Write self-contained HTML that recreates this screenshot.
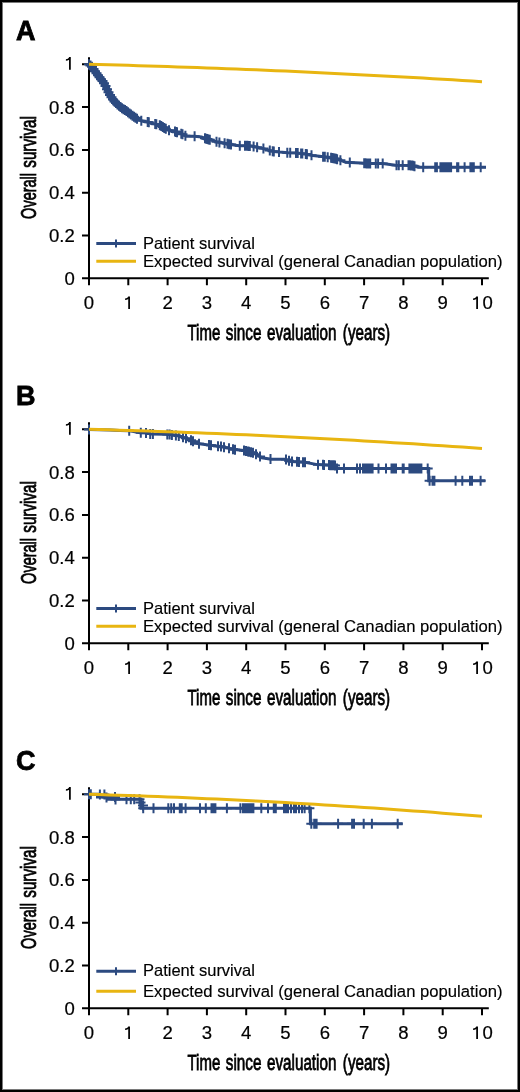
<!DOCTYPE html>
<html><head><meta charset="utf-8"><title>Survival</title><style>
html,body{margin:0;padding:0;background:#fff;}
body{width:520px;height:1092px;overflow:hidden;position:relative;}
svg{position:absolute;left:0;top:0;display:block;will-change:transform;}
text{font-family:"Liberation Sans",sans-serif;fill:#000;}
.let{font-weight:bold;font-size:27px;stroke:#000;stroke-width:0.8px;}
.g1{stroke:#000;stroke-width:1.75;fill:none;}
.g1f{stroke:#000;stroke-width:1.5;fill:none;}
.cond{font-size:22.8px;stroke:#000;stroke-width:0.8px;}
.tk{font-size:17.5px;stroke:#000;stroke-width:0.2px;}
.lg{font-size:16.5px;stroke:#000;stroke-width:0.15px;}
.ax{stroke:#000;stroke-width:2;fill:none;}
.bl{stroke:#2c4a80;stroke-width:3;fill:none;stroke-linejoin:miter;}
.mk{stroke:#2c4a80;stroke-width:2;fill:none;}
.ye{stroke:#e8b511;stroke-width:3;fill:none;}
</style></head>
<body>
<svg width="520" height="1092" viewBox="0 0 520 1092">
<rect x="0" y="0" width="520" height="1092" fill="#fff"/>
<g transform="translate(0,0)">
<text x="16" y="39.8" class="let">A</text>
<text class="cond" transform="translate(35.8,218.89) rotate(-90) scale(0.636,1)">Overall</text>
<text class="cond" transform="translate(35.8,167.72) rotate(-90) scale(0.668,1)">survival</text>
<text class="cond" transform="translate(187.46,339.5) scale(0.659,1)">Time</text>
<text class="cond" transform="translate(225.77,339.5) scale(0.671,1)">since</text>
<text class="cond" transform="translate(267.05,339.5) scale(0.667,1)">evaluation</text>
<text class="cond" transform="translate(342.86,339.5) scale(0.667,1)">(years)</text>
<path d="M89 57.3V285.3M82 278.3H488.8" class="ax"/>
<path d="M82 64.3H89M82 107.1H89M82 149.9H89M82 192.7H89M82 235.5H89" class="ax"/>
<path d="M128.3 278.3V285.3M167.6 278.3V285.3M206.9 278.3V285.3M246.2 278.3V285.3M285.5 278.3V285.3M324.8 278.3V285.3M364.1 278.3V285.3M403.4 278.3V285.3M442.7 278.3V285.3M482 278.3V285.3" class="ax"/>
<text transform="translate(74.8,284.7) scale(1.06,1)" class="tk" text-anchor="end">0</text>
<text transform="translate(74.8,241.9) scale(1.06,1)" class="tk" text-anchor="end">0.2</text>
<text transform="translate(74.8,199.1) scale(1.06,1)" class="tk" text-anchor="end">0.4</text>
<text transform="translate(74.8,156.3) scale(1.06,1)" class="tk" text-anchor="end">0.6</text>
<text transform="translate(74.8,113.5) scale(1.06,1)" class="tk" text-anchor="end">0.8</text>
<path d="M69.9 57.1V69.7" class="g1"/><path d="M69.7 57.7C69.1 59.3 67.7 60 65.9 60" class="g1f"/>
<text transform="translate(89,309) scale(1.06,1)" class="tk" text-anchor="middle">0</text>
<path d="M129.1 296.4V309" class="g1"/><path d="M128.9 297C128.3 298.6 126.9 299.3 125.1 299.3" class="g1f"/>
<text transform="translate(167.6,309) scale(1.06,1)" class="tk" text-anchor="middle">2</text>
<text transform="translate(206.9,309) scale(1.06,1)" class="tk" text-anchor="middle">3</text>
<text transform="translate(246.2,309) scale(1.06,1)" class="tk" text-anchor="middle">4</text>
<text transform="translate(285.5,309) scale(1.06,1)" class="tk" text-anchor="middle">5</text>
<text transform="translate(324.8,309) scale(1.06,1)" class="tk" text-anchor="middle">6</text>
<text transform="translate(364.1,309) scale(1.06,1)" class="tk" text-anchor="middle">7</text>
<text transform="translate(403.4,309) scale(1.06,1)" class="tk" text-anchor="middle">8</text>
<text transform="translate(442.7,309) scale(1.06,1)" class="tk" text-anchor="middle">9</text>
<path d="M477.1 296.4V309" class="g1"/><path d="M476.9 297C476.3 298.6 474.9 299.3 473.1 299.3" class="g1f"/>
<text transform="translate(487.6,309) scale(1.06,1)" class="tk" text-anchor="middle">0</text>
<path d="M89 64.3 L92 66.8 L96.5 73.3 L100 78 L102.3 80.6 L105 85 L108 91.2 L110 95 L113.8 100.8 L117 104 L121.5 108 L126.3 110.9 L131.5 115 L137.3 119 L141.3 120.8 L147.7 121.9 L153.4 123.6 L159.2 124.8 L163.8 127.7 L168.4 130 L175.4 131.7 L180.8 133.5 L186.5 136.3 L194.6 136.3 L201.5 136.9 L206.1 138.6 L211.9 140.4 L217.7 142.1 L224.6 143.3 L230.4 144.4 L239.2 145.8 L247.3 145.8 L253 146.3 L257.7 147.5 L263.4 148.6 L269.2 150.4 L273.8 151.5 L279.6 152.1 L287.7 152.7 L296.5 152.9 L305.8 154 L312.7 155.5 L319.6 156.3 L325.4 156.9 L333.4 158.1 L339.2 159.8 L345.8 162.3 L360.8 162.9 L367.7 163.5 L382.7 163.5 L395.4 165.2 L412.3 165.4 L418 167.3 L486 167.3" class="bl"/>
<path d="M92 66.8 L96.5 73.3 L100 78 L102.3 80.6 L105 85 L108 91.2 L110 95 L113.8 100.8 L117 104 L121.5 108 L126.3 110.9 L131.5 115" class="bl" style="stroke-width:7"/>
<path d="M84 64.3h10M89 59.3v10M85.5 65.55h10M90.5 60.55v10M87 66.8h10M92 61.8v10M88.5 68.97h10M93.5 63.97v10M90 71.13h10M95 66.13v10M91.5 73.3h10M96.5 68.3v10M93 75.31h10M98 70.31v10M94.5 77.33h10M99.5 72.33v10M96 79.13h10M101 74.13v10M97.5 80.93h10M102.5 75.93v10M99 83.37h10M104 78.37v10M100.5 86.03h10M105.5 81.03v10M102 89.13h10M107 84.13v10M103.5 92.15h10M108.5 87.15v10M105 95h10M110 90v10M106.5 97.29h10M111.5 92.29v10M108 99.58h10M113 94.58v10M109.5 101.5h10M114.5 96.5v10M111 103h10M116 98v10M112.5 104.44h10M117.5 99.44v10M114 105.78h10M119 100.78v10M115.5 107.11h10M120.5 102.11v10M117 108.3h10M122 103.3v10M118.5 109.21h10M123.5 104.21v10M120 110.11h10M125 105.11v10M121.5 111.06h10M126.5 106.06v10M123 112.24h10M128 107.24v10M124.5 113.42h10M129.5 108.42v10M126 114.61h10M131 109.61v10M127.5 115.69h10M132.5 110.69v10M129 116.72h10M134 111.72v10M130.5 117.76h10M135.5 112.76v10M132 118.79h10M137 113.79v10M136.3 120.8h10M141.3 115.8v10M142.7 121.9h10M147.7 116.9v10M143.8 122.23h10M148.8 117.23v10M150.2 123.97h10M155.2 118.97v10M151.3 124.2h10M156.3 119.2v10M154.8 125.18h10M159.8 120.18v10M156.3 126.12h10M161.3 121.12v10M157.8 127.07h10M162.8 122.07v10M159.3 127.95h10M164.3 122.95v10M160.8 128.7h10M165.8 123.7v10M164 130.15h10M169 125.15v10M170 131.6h10M175 126.6v10M171 131.9h10M176 126.9v10M172 132.23h10M177 127.23v10M176.3 133.75h10M181.3 128.75v10M177.5 134.34h10M182.5 129.34v10M180.4 135.76h10M185.4 130.76v10M189.6 136.3h10M194.6 131.3v10M200 138.19h10M205 133.19v10M201.2 138.63h10M206.2 133.63v10M202.4 139h10M207.4 134v10M203.6 139.38h10M208.6 134.38v10M204.8 139.75h10M209.8 134.75v10M211.5 141.75h10M216.5 136.75v10M214.4 142.4h10M219.4 137.4v10M219.6 143.3h10M224.6 138.3v10M222.5 143.85h10M227.5 138.85v10M224.2 144.17h10M229.2 139.17v10M226 144.5h10M231 139.5v10M234.8 145.8h10M239.8 140.8v10M240 145.8h10M245 140.8v10M241.2 145.8h10M246.2 140.8v10M242.4 145.81h10M247.4 140.81v10M243.6 145.91h10M248.6 140.91v10M244.8 146.02h10M249.8 141.02v10M248.6 146.45h10M253.6 141.45v10M252.1 147.35h10M257.1 142.35v10M258.4 148.6h10M263.4 143.6v10M264.8 150.54h10M269.8 145.54v10M267.7 151.24h10M272.7 146.24v10M268.8 151.5h10M273.8 146.5v10M274 152.04h10M279 147.04v10M282.3 152.67h10M287.3 147.67v10M285.2 152.76h10M290.2 147.76v10M291 152.89h10M296 147.89v10M292.7 153.04h10M297.7 148.04v10M296.1 153.44h10M301.1 148.44v10M297.3 153.59h10M302.3 148.59v10M300.8 154h10M305.8 149v10M301.9 154.24h10M306.9 149.24v10M306.5 155.24h10M311.5 150.24v10M318.1 156.66h10M323.1 151.66v10M319.8 156.84h10M324.8 151.84v10M322.7 157.25h10M327.7 152.25v10M326.1 157.75h10M331.1 152.75v10M327.3 157.94h10M332.3 152.94v10M328.5 158.13h10M333.5 153.13v10M329.7 158.48h10M334.7 153.48v10M330.9 158.83h10M335.9 153.83v10M332.1 159.18h10M337.1 154.18v10M335.4 160.25h10M340.4 155.25v10M344.8 162.46h10M349.8 157.46v10M359.2 163.2h10M364.2 158.2v10M360.4 163.3h10M365.4 158.3v10M361.6 163.4h10M366.6 158.4v10M362.8 163.5h10M367.8 158.5v10M364 163.5h10M369 158.5v10M365.2 163.5h10M370.2 158.5v10M370.8 163.5h10M375.8 158.5v10M373.1 163.5h10M378.1 158.5v10M377.7 163.5h10M382.7 158.5v10M391.5 165.21h10M396.5 160.21v10M393.8 165.24h10M398.8 160.24v10M397.7 165.29h10M402.7 160.29v10M403.5 165.36h10M408.5 160.36v10M404.7 165.37h10M409.7 160.37v10M405.9 165.38h10M410.9 160.38v10M407.1 165.4h10M412.1 160.4v10M408.3 165.73h10M413.3 160.73v10M409.5 166.13h10M414.5 161.13v10M418.2 167.3h10M423.2 162.3v10M430.2 167.3h10M435.2 162.3v10M431.9 167.3h10M436.9 162.3v10M435.4 167.3h10M440.4 162.3v10M436.5 167.3h10M441.5 162.3v10M437.7 167.3h10M442.7 162.3v10M438.9 167.3h10M443.9 162.3v10M440.1 167.3h10M445.1 162.3v10M441.3 167.3h10M446.3 162.3v10M442.5 167.3h10M447.5 162.3v10M443.7 167.3h10M448.7 162.3v10M444.9 167.3h10M449.9 162.3v10M446.1 167.3h10M451.1 162.3v10M452.1 167.3h10M457.1 162.3v10M453.3 167.3h10M458.3 162.3v10M459.6 167.3h10M464.6 162.3v10M465.4 167.3h10M470.4 162.3v10M467.1 167.3h10M472.1 162.3v10M468.8 167.3h10M473.8 162.3v10M475.7 167.3h10M480.7 162.3v10" class="mk"/>
<path d="M89 64.3 L98.83 64.55 L108.65 64.81 L118.47 65.08 L128.3 65.36 L138.12 65.64 L147.95 65.94 L157.77 66.25 L167.6 66.56 L177.43 66.89 L187.25 67.22 L197.07 67.57 L206.9 67.92 L216.72 68.29 L226.55 68.66 L236.38 69.04 L246.2 69.44 L256.02 69.84 L265.85 70.25 L275.67 70.67 L285.5 71.1 L295.32 71.54 L305.15 71.99 L314.98 72.45 L324.8 72.92 L334.62 73.39 L344.45 73.88 L354.27 74.38 L364.1 74.88 L373.92 75.4 L383.75 75.92 L393.57 76.46 L403.4 77 L413.22 77.56 L423.05 78.12 L432.88 78.69 L442.7 79.28 L452.52 79.87 L462.35 80.47 L472.17 81.08 L482 81.7" class="ye"/>
<path d="M96.3 243.5H136" class="bl"/><path d="M116 239.5V247.5" class="mk"/>
<path d="M96.3 261.3H136" class="ye"/>
<text x="143" y="248.5" class="lg">Patient survival</text>
<text transform="translate(143,266.6) scale(1.011,1)" class="lg">Expected survival (general Canadian population)</text>
</g>
<g transform="translate(0,365)">
<text x="16" y="39.8" class="let">B</text>
<text class="cond" transform="translate(35.8,218.89) rotate(-90) scale(0.636,1)">Overall</text>
<text class="cond" transform="translate(35.8,167.72) rotate(-90) scale(0.668,1)">survival</text>
<text class="cond" transform="translate(187.46,339.5) scale(0.659,1)">Time</text>
<text class="cond" transform="translate(225.77,339.5) scale(0.671,1)">since</text>
<text class="cond" transform="translate(267.05,339.5) scale(0.667,1)">evaluation</text>
<text class="cond" transform="translate(342.86,339.5) scale(0.667,1)">(years)</text>
<path d="M89 57.3V285.3M82 278.3H488.8" class="ax"/>
<path d="M82 64.3H89M82 107.1H89M82 149.9H89M82 192.7H89M82 235.5H89" class="ax"/>
<path d="M128.3 278.3V285.3M167.6 278.3V285.3M206.9 278.3V285.3M246.2 278.3V285.3M285.5 278.3V285.3M324.8 278.3V285.3M364.1 278.3V285.3M403.4 278.3V285.3M442.7 278.3V285.3M482 278.3V285.3" class="ax"/>
<text transform="translate(74.8,284.7) scale(1.06,1)" class="tk" text-anchor="end">0</text>
<text transform="translate(74.8,241.9) scale(1.06,1)" class="tk" text-anchor="end">0.2</text>
<text transform="translate(74.8,199.1) scale(1.06,1)" class="tk" text-anchor="end">0.4</text>
<text transform="translate(74.8,156.3) scale(1.06,1)" class="tk" text-anchor="end">0.6</text>
<text transform="translate(74.8,113.5) scale(1.06,1)" class="tk" text-anchor="end">0.8</text>
<path d="M69.9 57.1V69.7" class="g1"/><path d="M69.7 57.7C69.1 59.3 67.7 60 65.9 60" class="g1f"/>
<text transform="translate(89,309) scale(1.06,1)" class="tk" text-anchor="middle">0</text>
<path d="M129.1 296.4V309" class="g1"/><path d="M128.9 297C128.3 298.6 126.9 299.3 125.1 299.3" class="g1f"/>
<text transform="translate(167.6,309) scale(1.06,1)" class="tk" text-anchor="middle">2</text>
<text transform="translate(206.9,309) scale(1.06,1)" class="tk" text-anchor="middle">3</text>
<text transform="translate(246.2,309) scale(1.06,1)" class="tk" text-anchor="middle">4</text>
<text transform="translate(285.5,309) scale(1.06,1)" class="tk" text-anchor="middle">5</text>
<text transform="translate(324.8,309) scale(1.06,1)" class="tk" text-anchor="middle">6</text>
<text transform="translate(364.1,309) scale(1.06,1)" class="tk" text-anchor="middle">7</text>
<text transform="translate(403.4,309) scale(1.06,1)" class="tk" text-anchor="middle">8</text>
<text transform="translate(442.7,309) scale(1.06,1)" class="tk" text-anchor="middle">9</text>
<path d="M477.1 296.4V309" class="g1"/><path d="M476.9 297C476.3 298.6 474.9 299.3 473.1 299.3" class="g1f"/>
<text transform="translate(487.6,309) scale(1.06,1)" class="tk" text-anchor="middle">0</text>
<path d="M89 64.5 L100 64.8 L110 65.08 L120 65.38 L129 65.65 L131 66 L140 67.8 L148 68 L150 69 L165 69.3 L170 69.6 L179.2 71 L185.4 73.1 L191.5 75.4 L197.7 78.5 L208.5 80 L220.8 81.5 L228.5 83.1 L234.6 84.6 L243.8 85.4 L250 86.9 L254.2 88.1 L261.9 92.7 L271.2 94.2 L285 94.2 L291.2 96.5 L305 97.3 L317.3 99.6 L335.4 100.4 L337 103.4 L428.7 103.4 L428.7 115.8 L485.4 115.8" class="bl"/>
<path d="M84 64.5h10M89 59.5v10M124.2 65.68h10M129.2 60.68v10M135.8 67.82h10M140.8 62.82v10M141 67.95h10M146 62.95v10M145.2 69h10M150.2 64v10M147.9 69.06h10M152.9 64.06v10M162.3 69.44h10M167.3 64.44v10M164.6 69.58h10M169.6 64.58v10M166.9 69.89h10M171.9 64.89v10M170.9 70.5h10M175.9 65.5v10M173.8 70.94h10M178.8 65.94v10M178 72.29h10M183 67.29v10M181 73.33h10M186 68.33v10M186 75.21h10M191 70.21v10M188 76.15h10M193 71.15v10M194 78.68h10M199 73.68v10M204 80.06h10M209 75.06v10M206 80.3h10M211 75.3v10M213 81.16h10M218 76.16v10M216 81.54h10M221 76.54v10M219 82.16h10M224 77.16v10M224 83.22h10M229 78.22v10M228 84.21h10M233 79.21v10M230 84.63h10M235 79.63v10M239 85.45h10M244 80.45v10M241 85.93h10M246 80.93v10M243 86.42h10M248 81.42v10M244 86.66h10M249 81.66v10M246 87.19h10M251 82.19v10M248 87.76h10M253 82.76v10M251 89.18h10M256 84.18v10M255 91.56h10M260 86.56v10M265.5 94.09h10M270.5 89.09v10M281 94.57h10M286 89.57v10M284 95.68h10M289 90.68v10M287 96.55h10M292 91.55v10M292 96.84h10M297 91.84v10M294 96.95h10M299 91.95v10M298 97.18h10M303 92.18v10M300 97.3h10M305 92.3v10M313 99.63h10M318 94.63v10M318 99.85h10M323 94.85v10M319 99.9h10M324 94.9v10M324 100.12h10M329 95.12v10M325.2 100.17h10M330.2 95.17v10M326.4 100.22h10M331.4 95.22v10M327.6 100.28h10M332.6 95.28v10M328.8 100.33h10M333.8 95.33v10M330 100.38h10M335 95.38v10M332 103.4h10M337 98.4v10M339 103.4h10M344 98.4v10M352 103.4h10M357 98.4v10M355 103.4h10M360 98.4v10M358 103.4h10M363 98.4v10M359.2 103.4h10M364.2 98.4v10M360.4 103.4h10M365.4 98.4v10M361.6 103.4h10M366.6 98.4v10M362.8 103.4h10M367.8 98.4v10M364 103.4h10M369 98.4v10M365.2 103.4h10M370.2 98.4v10M366.4 103.4h10M371.4 98.4v10M367.6 103.4h10M372.6 98.4v10M373.5 103.4h10M378.5 98.4v10M381 103.4h10M386 98.4v10M386.5 103.4h10M391.5 98.4v10M388 103.4h10M393 98.4v10M390 103.4h10M395 98.4v10M391 103.4h10M396 98.4v10M397.7 103.4h10M402.7 98.4v10M398.7 103.4h10M403.7 98.4v10M404.4 103.4h10M409.4 98.4v10M406.4 103.4h10M411.4 98.4v10M408.4 103.4h10M413.4 98.4v10M410.4 103.4h10M415.4 98.4v10M412.4 103.4h10M417.4 98.4v10M414.4 103.4h10M419.4 98.4v10M416.4 103.4h10M421.4 98.4v10M422.7 103.4h10M427.7 98.4v10M424.6 115.8h10M429.6 110.8v10M427.5 115.8h10M432.5 110.8v10M429.4 115.8h10M434.4 110.8v10M450.6 115.8h10M455.6 110.8v10M457.3 115.8h10M462.3 110.8v10M465 115.8h10M470 110.8v10M466 115.8h10M471 110.8v10M467 115.8h10M472 110.8v10M475.6 115.8h10M480.6 110.8v10" class="mk"/>
<path d="M89 64.3 L98.83 64.57 L108.65 64.84 L118.47 65.13 L128.3 65.43 L138.12 65.74 L147.95 66.06 L157.77 66.39 L167.6 66.73 L177.43 67.09 L187.25 67.45 L197.07 67.83 L206.9 68.21 L216.72 68.61 L226.55 69.02 L236.38 69.44 L246.2 69.87 L256.02 70.31 L265.85 70.76 L275.67 71.23 L285.5 71.7 L295.32 72.19 L305.15 72.68 L314.98 73.19 L324.8 73.71 L334.62 74.24 L344.45 74.78 L354.27 75.33 L364.1 75.89 L373.92 76.47 L383.75 77.05 L393.57 77.65 L403.4 78.25 L413.22 78.87 L423.05 79.5 L432.88 80.14 L442.7 80.79 L452.52 81.45 L462.35 82.12 L472.17 82.81 L482 83.5" class="ye"/>
<path d="M96.3 243.5H136" class="bl"/><path d="M116 239.5V247.5" class="mk"/>
<path d="M96.3 261.3H136" class="ye"/>
<text x="143" y="248.5" class="lg">Patient survival</text>
<text transform="translate(143,266.6) scale(1.011,1)" class="lg">Expected survival (general Canadian population)</text>
</g>
<g transform="translate(0,730)">
<text x="16" y="39.8" class="let">C</text>
<text class="cond" transform="translate(35.8,218.89) rotate(-90) scale(0.636,1)">Overall</text>
<text class="cond" transform="translate(35.8,167.72) rotate(-90) scale(0.668,1)">survival</text>
<text class="cond" transform="translate(187.46,339.5) scale(0.659,1)">Time</text>
<text class="cond" transform="translate(225.77,339.5) scale(0.671,1)">since</text>
<text class="cond" transform="translate(267.05,339.5) scale(0.667,1)">evaluation</text>
<text class="cond" transform="translate(342.86,339.5) scale(0.667,1)">(years)</text>
<path d="M89 57.3V285.3M82 278.3H488.8" class="ax"/>
<path d="M82 64.3H89M82 107.1H89M82 149.9H89M82 192.7H89M82 235.5H89" class="ax"/>
<path d="M128.3 278.3V285.3M167.6 278.3V285.3M206.9 278.3V285.3M246.2 278.3V285.3M285.5 278.3V285.3M324.8 278.3V285.3M364.1 278.3V285.3M403.4 278.3V285.3M442.7 278.3V285.3M482 278.3V285.3" class="ax"/>
<text transform="translate(74.8,284.7) scale(1.06,1)" class="tk" text-anchor="end">0</text>
<text transform="translate(74.8,241.9) scale(1.06,1)" class="tk" text-anchor="end">0.2</text>
<text transform="translate(74.8,199.1) scale(1.06,1)" class="tk" text-anchor="end">0.4</text>
<text transform="translate(74.8,156.3) scale(1.06,1)" class="tk" text-anchor="end">0.6</text>
<text transform="translate(74.8,113.5) scale(1.06,1)" class="tk" text-anchor="end">0.8</text>
<path d="M69.9 57.1V69.7" class="g1"/><path d="M69.7 57.7C69.1 59.3 67.7 60 65.9 60" class="g1f"/>
<text transform="translate(89,309) scale(1.06,1)" class="tk" text-anchor="middle">0</text>
<path d="M129.1 296.4V309" class="g1"/><path d="M128.9 297C128.3 298.6 126.9 299.3 125.1 299.3" class="g1f"/>
<text transform="translate(167.6,309) scale(1.06,1)" class="tk" text-anchor="middle">2</text>
<text transform="translate(206.9,309) scale(1.06,1)" class="tk" text-anchor="middle">3</text>
<text transform="translate(246.2,309) scale(1.06,1)" class="tk" text-anchor="middle">4</text>
<text transform="translate(285.5,309) scale(1.06,1)" class="tk" text-anchor="middle">5</text>
<text transform="translate(324.8,309) scale(1.06,1)" class="tk" text-anchor="middle">6</text>
<text transform="translate(364.1,309) scale(1.06,1)" class="tk" text-anchor="middle">7</text>
<text transform="translate(403.4,309) scale(1.06,1)" class="tk" text-anchor="middle">8</text>
<text transform="translate(442.7,309) scale(1.06,1)" class="tk" text-anchor="middle">9</text>
<path d="M477.1 296.4V309" class="g1"/><path d="M476.9 297C476.3 298.6 474.9 299.3 473.1 299.3" class="g1f"/>
<text transform="translate(487.6,309) scale(1.06,1)" class="tk" text-anchor="middle">0</text>
<path d="M89 64.3 L97.5 64.3 L97.5 67 L108.5 67 L108.5 69.2 L141 69.2 L141 78.3 L310.4 78.3 L310.4 93.8 L402.7 93.8" class="bl"/>
<path d="M84 64.3h10M89 59.3v10M85.8 64.3h10M90.8 59.3v10M94.9 64.5h10M99.9 59.5v10M99.4 64.5h10M104.4 59.5v10M101.5 67.6h10M106.5 62.6v10M110 67h10M115 62v10M110.5 69.5h10M115.5 64.5v10M121.5 69.2h10M126.5 64.2v10M125.8 69.2h10M130.8 64.2v10M129.2 69.2h10M134.2 64.2v10M134.5 69.2h10M139.5 64.2v10M135.5 72.6h10M140.5 67.6v10M138 75.6h10M143 70.6v10M138.2 78.3h10M143.2 73.3v10M148.5 78.3h10M153.5 73.3v10M163.3 78.3h10M168.3 73.3v10M166.2 78.3h10M171.2 73.3v10M169 78.3h10M174 73.3v10M174.8 78.3h10M179.8 73.3v10M176.7 78.3h10M181.7 73.3v10M180.6 78.3h10M185.6 73.3v10M195 78.3h10M200 73.3v10M200.8 78.3h10M205.8 73.3v10M206.5 78.3h10M211.5 73.3v10M207.8 78.3h10M212.8 73.3v10M209.1 78.3h10M214.1 73.3v10M210.4 78.3h10M215.4 73.3v10M221.9 78.3h10M226.9 73.3v10M235.4 78.3h10M240.4 73.3v10M238 78.3h10M243 73.3v10M239.3 78.3h10M244.3 73.3v10M240.6 78.3h10M245.6 73.3v10M241.9 78.3h10M246.9 73.3v10M243.2 78.3h10M248.2 73.3v10M244.5 78.3h10M249.5 73.3v10M245.8 78.3h10M250.8 73.3v10M247.1 78.3h10M252.1 73.3v10M248.4 78.3h10M253.4 73.3v10M256.3 78.3h10M261.3 73.3v10M263 78.3h10M268 73.3v10M268.8 78.3h10M273.8 73.3v10M270.8 78.3h10M275.8 73.3v10M279 78.3h10M284 73.3v10M281 78.3h10M286 73.3v10M283 78.3h10M288 73.3v10M286 78.3h10M291 73.3v10M289 78.3h10M294 73.3v10M291 78.3h10M296 73.3v10M294 78.3h10M299 73.3v10M297 78.3h10M302 73.3v10M299.6 78.3h10M304.6 73.3v10M304.4 78.3h10M309.4 73.3v10M306.3 93.8h10M311.3 88.8v10M309.2 93.8h10M314.2 88.8v10M310.4 93.8h10M315.4 88.8v10M311.6 93.8h10M316.6 88.8v10M333.1 93.8h10M338.1 88.8v10M347.1 93.8h10M352.1 88.8v10M349 93.8h10M354 88.8v10M358.7 93.8h10M363.7 88.8v10M366.9 93.8h10M371.9 88.8v10M392.7 93.8h10M397.7 88.8v10" class="mk"/>
<path d="M89 64.3 L98.83 64.59 L108.65 64.89 L118.47 65.2 L128.3 65.53 L138.12 65.87 L147.95 66.22 L157.77 66.59 L167.6 66.97 L177.43 67.37 L187.25 67.77 L197.07 68.2 L206.9 68.63 L216.72 69.08 L226.55 69.54 L236.38 70.02 L246.2 70.51 L256.02 71.01 L265.85 71.53 L275.67 72.06 L285.5 72.6 L295.32 73.16 L305.15 73.73 L314.98 74.31 L324.8 74.91 L334.62 75.52 L344.45 76.14 L354.27 76.78 L364.1 77.43 L373.92 78.1 L383.75 78.78 L393.57 79.47 L403.4 80.17 L413.22 80.89 L423.05 81.62 L432.88 82.37 L442.7 83.13 L452.52 83.9 L462.35 84.69 L472.17 85.49 L482 86.3" class="ye"/>
<path d="M96.3 241.2H136" class="bl"/><path d="M116 237.2V245.2" class="mk"/>
<path d="M96.3 261.3H136" class="ye"/>
<text x="143" y="246.2" class="lg">Patient survival</text>
<text transform="translate(143,266.6) scale(1.011,1)" class="lg">Expected survival (general Canadian population)</text>
</g>
<rect x="1" y="1" width="518" height="1090" fill="none" stroke="#000" stroke-width="2"/>
<rect x="2.5" y="2.5" width="515" height="1087" fill="none" stroke="#7a7a7a" stroke-width="1"/>
</svg>
</body></html>
